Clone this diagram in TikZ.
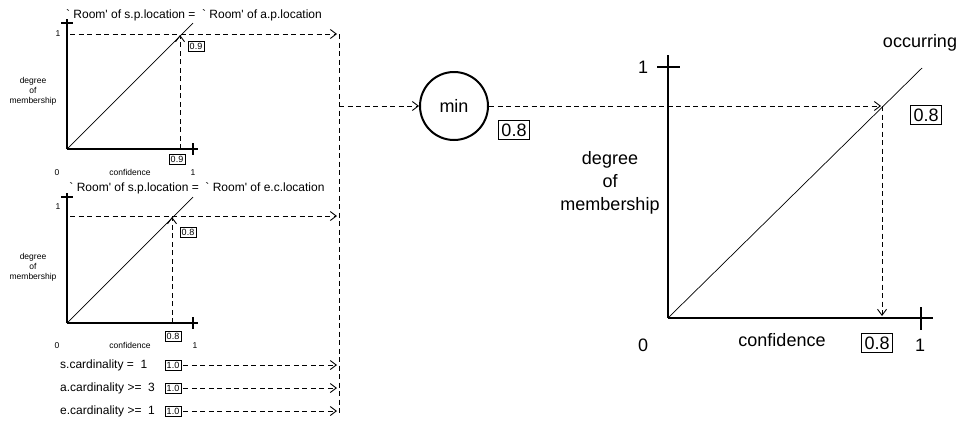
\documentclass[tikz,border=0pt]{standalone}
\usepackage{fontspec}
\setmainfont{Liberation Sans}
\usetikzlibrary{arrows.meta}
\newcommand{\gq}{\textasciigrave}
\newcommand{\sq}{\textquotesingle}
\tikzset{
  ax/.style={line width=2.6pt},
  tk/.style={line width=2.4pt},
  diag/.style={line width=0.7pt},
  dsh/.style={line width=0.9pt, dash pattern=on 5pt off 3.5pt},
  arr/.style={-{Straight Barb[length=6pt,width=9pt,line width=0.9pt]}},
  sm/.style={font=\fontsize{8.5}{10}\selectfont, inner sep=0pt, align=center},
  mid/.style={font=\fontsize{12}{14}\selectfont, inner sep=0pt},
  big/.style={font=\fontsize{18}{23}\selectfont, inner sep=0pt, align=center},
  sbox/.style={draw, line width=0.7pt, font=\fontsize{9}{10}\selectfont, inner sep=1.8pt},
  bbox/.style={draw, line width=0.9pt, font=\fontsize{18}{20}\selectfont, inner sep=3pt},
}
\begin{document}
\begin{tikzpicture}[x=1pt,y=-1pt]
\useasboundingbox (0,0) rectangle (963,421);

% ---------- chart 1 ----------
\node[mid] (t1) at (194,15) {\gq\ Room\sq\ of s.p.location =\ \ \gq\ Room\sq\ of a.p.location};
\coordinate (o1) at (67,149);
\coordinate (y1) at (67,19);
\coordinate (x1) at (198,149);
\draw[ax] (o1) -- (y1);
\draw[ax] (o1) -- (x1);
\draw[tk] (61,23) -- (73,23);
\draw[tk] (193,143) -- (193,155);
\coordinate (d1) at (193,23);
\draw[diag] (o1) -- (d1);
\node[sm] (one1) at (58,34) {1};
\node[sm] (dm1) at (33,91) {degree\\of\\membership};
\node[sm] (z1) at (57,173) {0};
\node[sm] (cf1) at (130,172) {confidence};
\node[sm] (u1) at (193,173) {1};
\node[sbox] (b1) at (196,46) {0.9};
\node[sbox] (b1x) at (177,159) {0.9};
\coordinate (h1s) at (70,34);
\coordinate (h1e) at (337,34);
\coordinate (v1s) at (180,149);
\coordinate (v1e) at (180,35);
\draw[dsh,arr] (h1s) -- (h1e);
\draw[dsh,arr] (v1s) -- (v1e);

% ---------- chart 2 ----------
\node[mid] (t2) at (197,188) {\gq\ Room\sq\ of s.p.location =\ \ \gq\ Room\sq\ of e.c.location};
\coordinate (o2) at (67,323);
\coordinate (y2) at (67,193);
\coordinate (x2) at (198,323);
\draw[ax] (o2) -- (y2);
\draw[ax] (o2) -- (x2);
\draw[tk] (61,197) -- (73,197);
\draw[tk] (193,317) -- (193,329);
\coordinate (d2) at (193,197);
\draw[diag] (o2) -- (d2);
\node[sm] (one2) at (58,207) {1};
\node[sm] (dm2) at (33,267) {degree\\of\\membership};
\node[sm] (z2) at (57,346) {0};
\node[sm] (cf2) at (130,345) {confidence};
\node[sm] (u2) at (195,346) {1};
\node[sbox] (b2) at (188,232) {0.8};
\node[sbox] (b2x) at (173,336) {0.8};
\coordinate (h2s) at (70,216);
\coordinate (h2e) at (337,216);
\coordinate (v2s) at (172,323);
\coordinate (v2e) at (172,217);
\draw[dsh,arr] (h2s) -- (h2e);
\draw[dsh,arr] (v2s) -- (v2e);

% ---------- cardinalities ----------
\node[mid,anchor=west] (s1) at (60,365) {s.cardinality =\ \ 1};
\node[mid,anchor=west] (s2) at (60,388) {a.cardinality >=\ \ 3};
\node[mid,anchor=west] (s3) at (60,411) {e.cardinality >=\ \ 1};
\node[sbox] (c1) at (173,365) {1.0};
\node[sbox] (c2) at (173,388) {1.0};
\node[sbox] (c3) at (173,411) {1.0};
\coordinate (e1) at (337,365);
\coordinate (e2) at (337,388);
\coordinate (e3) at (337,411);
\draw[dsh,arr] (c1.east) ++(2,0) -- (e1);
\draw[dsh,arr] (c2.east) ++(2,0) -- (e2);
\draw[dsh,arr] (c3.east) ++(2,0) -- (e3);

% ---------- collector ----------
\coordinate (ct) at (339,34);
\coordinate (cb) at (339,415);
\coordinate (cm) at (339,106);
\draw[dsh] (ct) -- (cb);

% ---------- min ----------
\node[draw, circle, line width=2pt, minimum size=68pt, inner sep=0pt, font=\fontsize{18}{20}\selectfont] (min) at (454,106) {min};
\node[bbox] (mb) at (514,130) {0.8};
\draw[dsh,arr] (cm) -- (min.west);

% ---------- big chart ----------
\coordinate (O) at (668,318);
\coordinate (Y) at (668,55);
\coordinate (X) at (933,318);
\draw[ax, line width=2.8pt] (O) -- (Y);
\draw[ax, line width=2.8pt] (O) -- (X);
\draw[tk, line width=2.6pt] (657,67) -- (680,67);
\draw[tk, line width=2.6pt] (921,307) -- (921,330);
\coordinate (D) at (922,68);
\draw[diag] (O) -- (D);
\node[big] (one) at (643,67) {1};
\node[big] (occ) at (920,43) {occurring};
\node[bbox] (B1) at (926,115) {0.8};
\node[big] (dm) at (610,183) {degree\\of\\membership};
\node[big] (zero) at (643,345) {0};
\node[big] (cf) at (782,340) {confidence};
\node[bbox] (B2) at (877,343) {0.8};
\node[big] (u) at (920,345) {1};
\coordinate (P) at (881,106);
\coordinate (Pd) at (882,106);
\coordinate (Pb) at (882,316);
\draw[dsh,arr] (min.east) -- (P);
\draw[dsh,arr] (Pd) -- (Pb);
\end{tikzpicture}
\end{document}
